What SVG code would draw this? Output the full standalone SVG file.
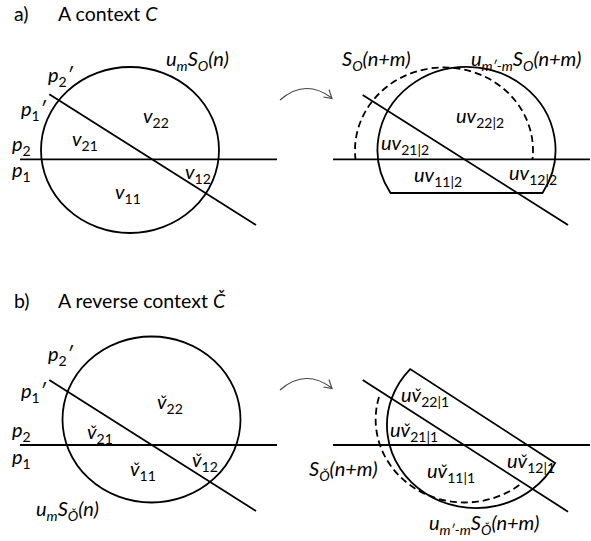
<svg xmlns="http://www.w3.org/2000/svg" width="591" height="541" viewBox="0 0 591 541">
<style>
.bg{fill:#fff}
.ln{fill:none;stroke:#000;stroke-width:1.8}
.dash{fill:none;stroke:#000;stroke-width:1.8;stroke-dasharray:7 4}
.arr{fill:none;stroke:#444;stroke-width:1.1}
text{font-family:Lato,"Open Sans","Liberation Sans",sans-serif;fill:#000}
.title{font-size:19.5px}
.lab{font-size:20px;font-style:italic}
.sub{font-size:14px}
.n{font-style:normal}
</style>
<rect class="bg" x="0" y="0" width="591" height="541"/>

<g id="title-a"><text class="title" x="14" y="21">a)</text><text class="title" x="58" y="21">A context <tspan font-style="italic">C</tspan></text></g>
<g id="title-b"><text class="title" x="14" y="308">b)</text><text class="title" x="58" y="308">A reverse context <tspan font-style="italic">Č</tspan></text></g>

<g id="panel-a-left">
<ellipse class="ln" cx="130" cy="150" rx="89" ry="83"/>
<line class="ln" x1="20" y1="159.3" x2="277" y2="159.3"/>
<line class="ln" x1="49.3" y1="94.3" x2="256" y2="225"/>
<text class="lab" x="166" y="66">u<tspan class="sub" dy="5">m</tspan><tspan dy="-5">S</tspan><tspan class="sub" dy="5">O</tspan><tspan dy="-5">(n)</tspan></text>
<text class="lab" x="48" y="82">p<tspan class="sub n" dy="5">2</tspan><tspan dy="-5">′</tspan></text>
<text class="lab" x="21" y="116">p<tspan class="sub n" dy="5">1</tspan><tspan dy="-5">′</tspan></text>
<text class="lab" x="12" y="151">p<tspan class="sub n" dy="5">2</tspan></text>
<text class="lab" x="12" y="177">p<tspan class="sub n" dy="5">1</tspan></text>
<text class="lab" x="143" y="123">v<tspan class="sub n" dy="5">22</tspan></text>
<text class="lab" x="72" y="146">v<tspan class="sub n" dy="5">21</tspan></text>
<text class="lab" x="185" y="179">v<tspan class="sub n" dy="5">12</tspan></text>
<text class="lab" x="115" y="199">v<tspan class="sub n" dy="5">11</tspan></text>
</g>

<g id="panel-a-right">
<path class="dash" d="M355.6,160 A89,83 0 1 1 532.4,160"/>
<path class="ln" d="M390.5,193 A89,83 0 1 1 542.5,193 Z"/>
<line class="ln" x1="333" y1="159.3" x2="590" y2="159.3"/>
<line class="ln" x1="362.7" y1="95" x2="568" y2="225"/>
<text class="lab" x="342" y="66">S<tspan class="sub" dy="5">O</tspan><tspan dy="-5">(n+m)</tspan></text>
<text class="lab" x="471" y="66">u<tspan class="sub" dy="5">m′-m</tspan><tspan dy="-5">S</tspan><tspan class="sub" dy="5">O</tspan><tspan dy="-5">(n+m)</tspan></text>
<text class="lab" x="456" y="123">uv<tspan class="sub n" dy="5">22|2</tspan></text>
<text class="lab" x="381" y="150">uv<tspan class="sub n" dy="5">21|2</tspan></text>
<text class="lab" x="414" y="181.5">uv<tspan class="sub n" dy="5">11|2</tspan></text>
<text class="lab" x="509" y="180">uv<tspan class="sub n" dy="5">12|2</tspan></text>
</g>

<g id="panel-b-left">
<ellipse class="ln" cx="151.5" cy="419.5" rx="89" ry="83"/>
<line class="ln" x1="20" y1="445" x2="277" y2="445"/>
<line class="ln" x1="49.3" y1="380" x2="256" y2="511"/>
<text class="lab" x="48" y="361">p<tspan class="sub n" dy="5">2</tspan><tspan dy="-5">′</tspan></text>
<text class="lab" x="21" y="398">p<tspan class="sub n" dy="5">1</tspan><tspan dy="-5">′</tspan></text>
<text class="lab" x="12" y="437">p<tspan class="sub n" dy="5">2</tspan></text>
<text class="lab" x="12" y="464">p<tspan class="sub n" dy="5">1</tspan></text>
<text class="lab" x="157" y="408.5">v̌<tspan class="sub n" dy="5">22</tspan></text>
<text class="lab" x="87" y="438.5">v̌<tspan class="sub n" dy="5">21</tspan></text>
<text class="lab" x="192" y="467">v̌<tspan class="sub n" dy="5">12</tspan></text>
<text class="lab" x="130" y="476">v̌<tspan class="sub n" dy="5">11</tspan></text>
<text class="lab" x="36" y="516">u<tspan class="sub" dy="5">m</tspan><tspan dy="-5">S</tspan><tspan class="sub" dy="5">Ǒ</tspan><tspan dy="-5">(n)</tspan></text>
</g>

<g id="panel-b-right">
<path class="dash" d="M379,397 A89,83 0 0 0 522,483"/>
<path class="ln" d="M410.2,369.1 A89,83 0 1 0 555.1,463 Z"/>
<line class="ln" x1="333" y1="445" x2="590" y2="445"/>
<line class="ln" x1="362.7" y1="380" x2="568" y2="511.7"/>
<text class="lab" x="401" y="401.5">uv̌<tspan class="sub n" dy="5">22|1</tspan></text>
<text class="lab" x="390" y="436.5">uv̌<tspan class="sub n" dy="5">21|1</tspan></text>
<text class="lab" x="427" y="478">uv̌<tspan class="sub n" dy="5">11|1</tspan></text>
<text class="lab" x="507" y="468">uv̌<tspan class="sub n" dy="5">12|1</tspan></text>
<text class="lab" x="309" y="476">S<tspan class="sub" dy="5">Ǒ</tspan><tspan dy="-5">(n+m)</tspan></text>
<text class="lab" x="429" y="530">u<tspan class="sub" dy="5">m′-m</tspan><tspan dy="-5">S</tspan><tspan class="sub" dy="5">Ǒ</tspan><tspan dy="-5">(n+m)</tspan></text>
</g>

<g id="connectors">
<path class="arr" d="M280,100 Q305,78 332,98"/>
<path class="arr" d="M329,89.5 L332,98.5 L323.5,97"/>
<path class="arr" d="M280,390 Q305,368 332,388"/>
<path class="arr" d="M329,379.5 L332,388.5 L323.5,387"/>
</g>
</svg>
